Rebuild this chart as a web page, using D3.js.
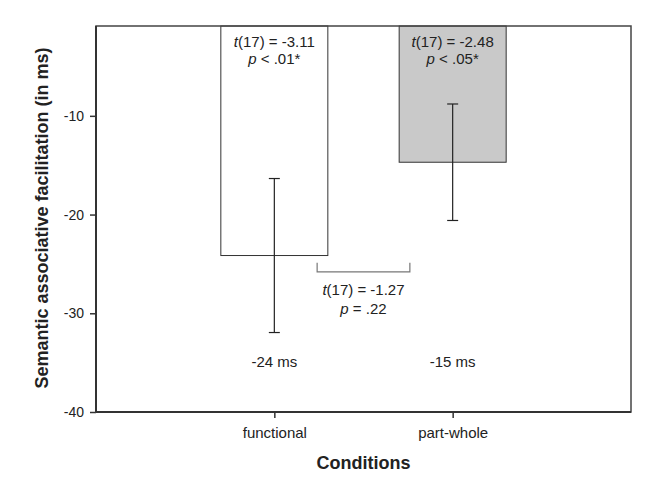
<!DOCTYPE html>
<html>
<head>
<meta charset="utf-8">
<script src="https://cdn.jsdelivr.net/npm/d3@7"></script>
<style>
  body { margin: 0; background: #fff; }
  text { font-family: "Liberation Sans", Arial, sans-serif; fill: #222; }
</style>
</head>
<body>
<script>
// values
const conditions = ['functional', 'part-whole'];
const means = [-24.15, -14.7];
const errors = [7.8, 5.9];
const barFills = ['#ffffff', '#c9c9c9'];
const meanLabels = ['-24 ms', '-15 ms'];
const testLines = [['t(17) = -3.11', 'p < .01*'], ['t(17) = -2.48', 'p < .05*']];
const diffLines = ['t(17) = -1.27', 'p = .22'];
const yTicks = [-40, -30, -20, -10];

const margin = {top: 26, right: 26, bottom: 82, left: 96};
const width = 657 - margin.left - margin.right;
const height = 494 - margin.top - margin.bottom;

const svg = d3.select('body').append('svg')
    .attr('width', 657)
    .attr('height', 494);

const g = svg.append('g')
    .attr('transform', 'translate(' + margin.left + ',' + margin.top + ')');

const x = d3.scalePoint()
    .domain(conditions)
    .range([0, width])
    .padding(1);

const y = d3.scaleLinear()
    .domain([-40, -0.9])
    .range([height, 0]);

const barW = width * 0.2;

// bars hang down from the top of the frame
g.selectAll('.bar')
    .data(conditions)
    .enter().append('rect')
    .attr('x', d => x(d) - barW / 2)
    .attr('y', 0)
    .attr('width', barW)
    .attr('height', (d, i) => y(means[i]))
    .attr('fill', (d, i) => barFills[i])
    .attr('stroke', '#333')
    .attr('stroke-width', 1);

// error bars
conditions.forEach((c, i) => {
    const cx = x(c);
    const top = y(means[i] + errors[i]);
    const bot = y(means[i] - errors[i]);
    const eb = g.append('g').attr('stroke', '#222').attr('stroke-width', 1.2);
    eb.append('line').attr('x1', cx).attr('x2', cx).attr('y1', top).attr('y2', bot);
    eb.append('line').attr('x1', cx - 5.5).attr('x2', cx + 5.5).attr('y1', top).attr('y2', top);
    eb.append('line').attr('x1', cx - 5.5).attr('x2', cx + 5.5).attr('y1', bot).attr('y2', bot);
});

// italic t / p at the start of each stat line
function statText(sel, parts) {
    sel.append('tspan').style('font-style', 'italic').text(parts[0]);
    sel.append('tspan').text(parts.slice(1));
}
conditions.forEach((c, i) => {
    testLines[i].forEach((line, k) => {
        const t = g.append('text')
            .attr('x', x(c))
            .attr('y', 21 + k * 17)
            .attr('text-anchor', 'middle')
            .style('font-size', '15px');
        statText(t, line);
    });
    g.append('text')
        .attr('x', x(c))
        .attr('y', y(-35.45))
        .attr('text-anchor', 'middle')
        .style('font-size', '15px')
        .text(meanLabels[i]);
});

// bracket comparing the two conditions
const bx1 = x(conditions[0]) + barW * 0.4;
const bx2 = x(conditions[1]) - barW * 0.4;
const byLow = y(-25.8);
const byHigh = byLow - 9;
g.append('path')
    .attr('d', 'M' + bx1 + ',' + byHigh + 'V' + byLow + 'H' + bx2 + 'V' + byHigh)
    .attr('fill', 'none')
    .attr('stroke', '#777')
    .attr('stroke-width', 1.2);
diffLines.forEach((line, k) => {
    const t = g.append('text')
        .attr('x', (bx1 + bx2) / 2)
        .attr('y', byLow + 23 + k * 19)
        .attr('text-anchor', 'middle')
        .style('font-size', '15px');
    statText(t, line);
});

// axes
const yAxis = g.append('g')
    .call(d3.axisLeft(y).tickValues(yTicks).tickFormat(d => String(d)).tickSize(6).tickPadding(6));
yAxis.selectAll('text').style('font-size', '14px').attr('fill', '#222');

const xAxis = g.append('g')
    .attr('transform', 'translate(0,' + height + ')')
    .call(d3.axisBottom(x).tickSize(6).tickPadding(9));
xAxis.selectAll('text').style('font-size', '15px').attr('fill', '#222');

g.selectAll('.domain').remove();
g.selectAll('.tick line').attr('stroke', '#333').attr('stroke-width', 1.5);

// frame
g.append('rect')
    .attr('width', width)
    .attr('height', height)
    .attr('fill', 'none')
    .attr('stroke', '#444')
    .attr('stroke-width', 1.5);
g.append('line').attr('x1', 0).attr('x2', 0).attr('y1', 0).attr('y2', height)
    .attr('stroke', '#333').attr('stroke-width', 2);
g.append('line').attr('x1', 0).attr('x2', width).attr('y1', height).attr('y2', height)
    .attr('stroke', '#333').attr('stroke-width', 2);

// axis titles
svg.append('text')
    .attr('x', margin.left + width / 2)
    .attr('y', 469)
    .attr('text-anchor', 'middle')
    .style('font-size', '18px')
    .style('font-weight', 'bold')
    .text('Conditions');

svg.append('text')
    .attr('transform', 'translate(48,' + 218 + ') rotate(-90)')
    .attr('text-anchor', 'middle')
    .style('font-size', '18px')
    .style('font-weight', 'bold')
    .text('Semantic associative facilitation (in ms)');
</script>
</body>
</html>
